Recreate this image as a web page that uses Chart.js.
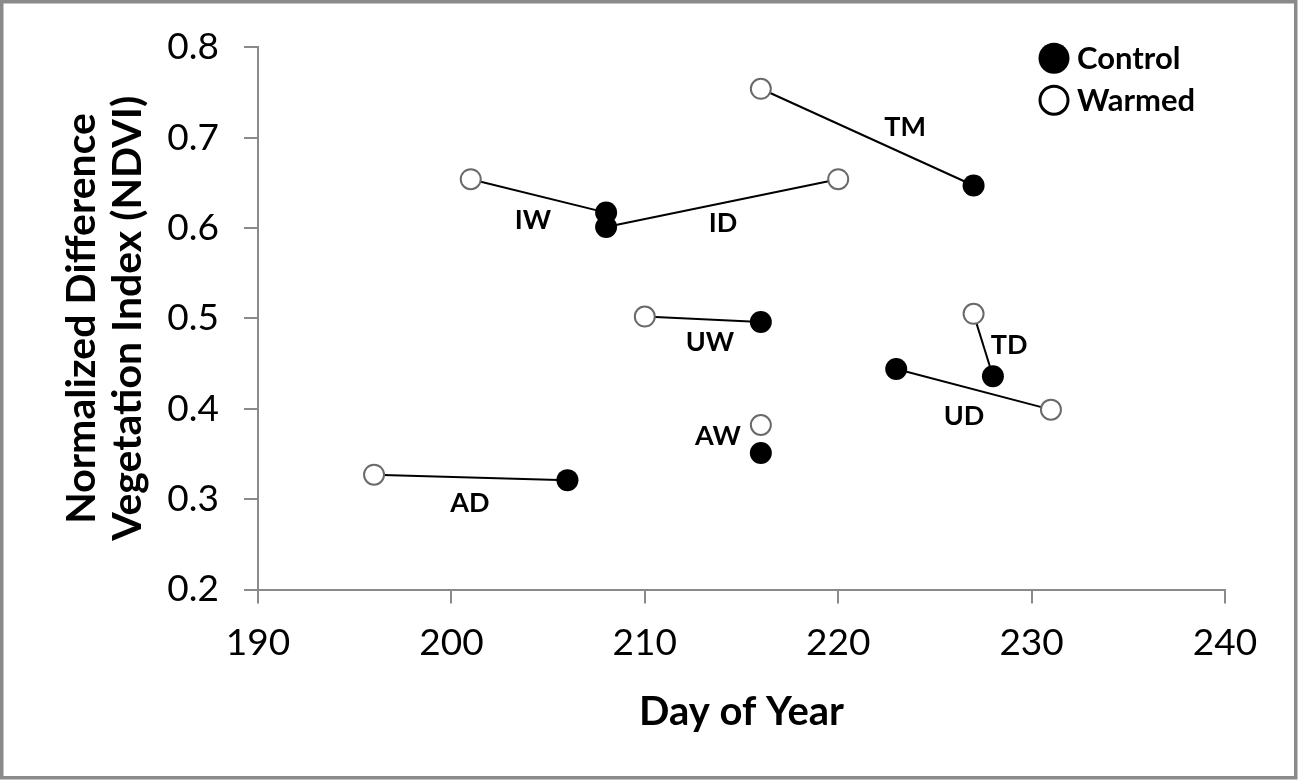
<!DOCTYPE html>
<html>
<head>
<meta charset="utf-8">
<script src="https://cdn.jsdelivr.net/npm/chart.js@4.4.1/dist/chart.umd.min.js"></script>
<style>
  html, body { margin: 0; padding: 0; background: #fff; }
  canvas { display: block; }
</style>
</head>
<body>
<canvas id="chart" width="1299" height="781"></canvas>
<script>
// Sites (one control and one warmed plot each)
const sites = ['AD', 'IW', 'ID', 'UW', 'AW', 'TM', 'TD', 'UD'];
const controlDay  = [206, 208, 208, 216, 216, 227, 228, 223];
const controlNdvi = [0.321, 0.617, 0.601, 0.496, 0.351, 0.647, 0.436, 0.444];
const warmedDay   = [196, 201, 220, 210, 216, 216, 227, 231];
const warmedNdvi  = [0.327, 0.654, 0.654, 0.502, 0.382, 0.754, 0.505, 0.399];
const connected   = [true, true, true, true, false, true, true, true];

// Where each site name sits, in data units
const labelDay  = [200.95, 204.21, 214.04, 213.37, 213.78, 223.46, 228.84, 226.51];
const labelNdvi = [0.295, 0.608, 0.605, 0.473, 0.369, 0.711, 0.4705, 0.392];

const xTicks = [190, 200, 210, 220, 230, 240];
const yTicks = [0.2, 0.3, 0.4, 0.5, 0.6, 0.7, 0.8];

const FONT = 'Lato, "Open Sans", sans-serif';

const points = (days, vals) => days.map((d, i) => ({ x: d, y: vals[i] }));

const datasets = [
  {
    label: 'Control',
    data: points(controlDay, controlNdvi),
    showLine: false,
    pointRadius: 11,
    pointBackgroundColor: '#000',
    pointBorderColor: '#000',
    pointBorderWidth: 0
  },
  {
    label: 'Warmed',
    data: points(warmedDay, warmedNdvi),
    showLine: false,
    pointRadius: 10,
    pointBackgroundColor: '#fff',
    pointBorderColor: '#6a6a6a',
    pointBorderWidth: 2
  }
];

// lines between the paired plots of a site
sites.forEach((s, i) => {
  if (!connected[i]) return;
  datasets.push({
    label: s,
    data: [{ x: warmedDay[i], y: warmedNdvi[i] }, { x: controlDay[i], y: controlNdvi[i] }],
    showLine: true,
    borderColor: '#000',
    borderWidth: 2,
    pointRadius: 0,
    fill: false
  });
});

const framePlugin = {
  id: 'frame',
  beforeDraw(chart) {
    const ctx = chart.ctx;
    ctx.save();
    ctx.fillStyle = '#fff';
    ctx.fillRect(0, 0, chart.width, chart.height);
    ctx.strokeStyle = '#8a8a8a';
    ctx.lineWidth = 3.5;
    ctx.strokeRect(1.75, 1.75, chart.width - 5, chart.height - 5);
    ctx.restore();
  }
};

const siteLabels = {
  id: 'siteLabels',
  afterDatasetsDraw(chart) {
    const { ctx, scales: { x, y } } = chart;
    ctx.save();
    ctx.font = 'bold 27px ' + FONT;
    ctx.fillStyle = '#000';
    ctx.textAlign = 'center';
    ctx.textBaseline = 'middle';
    sites.forEach((s, i) => {
      ctx.fillText(s, x.getPixelForValue(labelDay[i]), y.getPixelForValue(labelNdvi[i]));
    });
    ctx.restore();
  }
};

const cornerLegend = {
  id: 'cornerLegend',
  afterDraw(chart) {
    const { ctx, chartArea } = chart;
    const cx = chartArea.right - 171;
    const rows = [chartArea.top + 11, chartArea.top + 53];
    ctx.save();
    ctx.font = 'bold 31px ' + FONT;
    ctx.textAlign = 'left';
    ctx.textBaseline = 'middle';
    [0, 1].forEach((k) => {
      const ds = chart.data.datasets[k];
      const cy = rows[k];
      ctx.beginPath();
      ctx.arc(cx, cy, k === 0 ? 15.5 : 14, 0, Math.PI * 2);
      if (k === 0) {
        ctx.fillStyle = '#000';
        ctx.fill();
      } else {
        ctx.fillStyle = '#fff';
        ctx.fill();
        ctx.lineWidth = 3;
        ctx.strokeStyle = '#000';
        ctx.stroke();
      }
      ctx.fillStyle = '#000';
      ctx.fillText(ds.label, cx + 23, cy + 1);
    });
    ctx.restore();
  }
};

new Chart(document.getElementById('chart').getContext('2d'), {
  type: 'scatter',
  data: { datasets },
  plugins: [framePlugin, siteLabels, cornerLegend],
  options: {
    responsive: false,
    animation: false,
    devicePixelRatio: 1,
    layout: { padding: { top: 45, right: 74, left: 0, bottom: 0 } },
    plugins: {
      legend: { display: false },
      tooltip: { enabled: false }
    },
    scales: {
      x: {
        type: 'linear',
        min: xTicks[0],
        max: xTicks[xTicks.length - 1],
        afterBuildTicks: (scale) => { scale.ticks = xTicks.map(v => ({ value: v })); },
        afterFit: (scale) => { scale.height = 191.5; },
        ticks: {
          font: { family: FONT, size: 37 },
          color: '#000',
          padding: 17,
          maxRotation: 0
        },
        grid: { drawOnChartArea: false, drawTicks: true, tickLength: 14, color: '#8a8a8a', lineWidth: 2 },
        border: { display: true, color: '#8a8a8a', width: 2 },
        title: {
          display: true,
          text: 'Day of Year',
          color: '#000',
          font: { family: FONT, size: 40, weight: 'bold', lineHeight: 1.15 },
          padding: { top: 0, bottom: 46 }
        }
      },
      y: {
        type: 'linear',
        min: yTicks[0],
        max: yTicks[yTicks.length - 1],
        afterBuildTicks: (scale) => { scale.ticks = yTicks.map(v => ({ value: v })); },
        afterFit: (scale) => { scale.width = 258; },
        ticks: {
          font: { family: FONT, size: 37 },
          color: '#000',
          padding: 25,
          callback: (v) => v.toFixed(1)
        },
        grid: { drawOnChartArea: false, drawTicks: true, tickLength: 14, color: '#8a8a8a', lineWidth: 2 },
        border: { display: true, color: '#8a8a8a', width: 2 },
        title: {
          display: true,
          text: ['Normalized Difference', 'Vegetation Index (NDVI)'],
          color: '#000',
          font: { family: FONT, size: 41, weight: 'bold', lineHeight: 1.122 },
          padding: { top: 59, bottom: 0 }
        }
      }
    }
  }
});
</script>
</body>
</html>
